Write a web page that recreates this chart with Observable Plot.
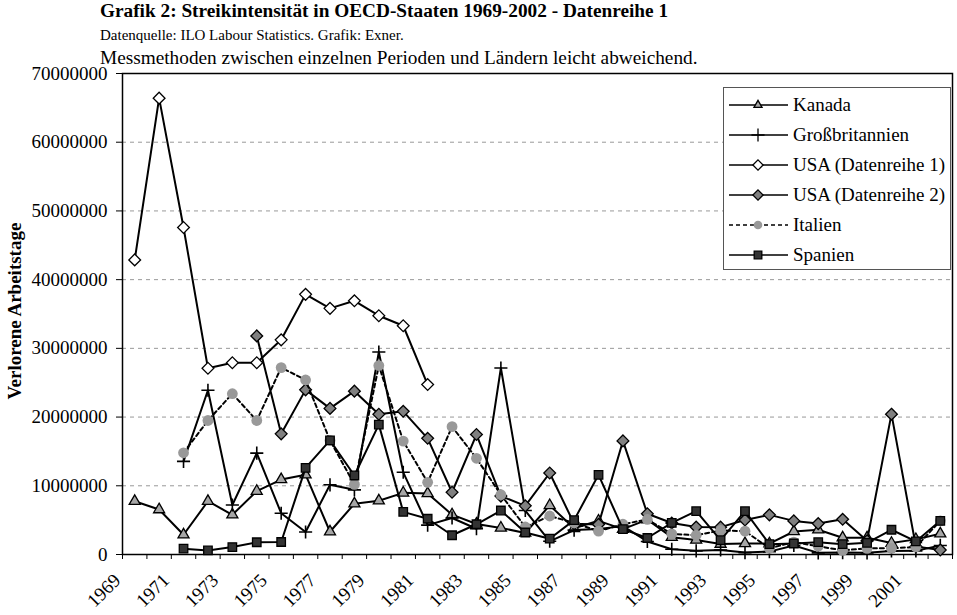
<!DOCTYPE html>
<html><head><meta charset="utf-8">
<script src="https://cdn.jsdelivr.net/npm/d3@7"></script>
<script src="https://cdn.jsdelivr.net/npm/@observablehq/plot@0.6"></script>
<style>
body{margin:0;background:#fff;font-family:"Liberation Serif","Times New Roman",serif;color:#000;}
#wrap{position:relative;width:957px;height:615px;overflow:hidden;}
#head{position:relative;height:62px;}
.t{position:absolute;left:100px;white-space:nowrap;line-height:1;}
#ylab{position:absolute;left:14px;top:311px;transform:translate(-50%,-50%) rotate(-90deg);font-weight:bold;font-size:19px;white-space:nowrap;line-height:1;}
#legend{position:absolute;left:723px;top:87px;width:226px;height:181px;border:1px solid #555;background:#fff;}
.row{position:absolute;left:0;height:30px;width:226px;}
.row svg{position:absolute;left:0;top:0;}
.row span{position:absolute;left:69px;top:5px;font-size:19px;line-height:1;white-space:nowrap;}
</style></head><body>
<div id="wrap">
  <div id="head">
    <div class="t" style="top:1px;font-weight:bold;font-size:19.3px">Grafik 2: Streikintensität in OECD-Staaten 1969-2002 - Datenreihe 1</div>
    <div class="t" style="top:28px;font-size:15px">Datenquelle: ILO Labour Statistics. Grafik: Exner.</div>
    <div class="t" style="top:48px;font-size:19.3px">Messmethoden zwischen einzelnen Perioden und Ländern leicht abweichend.</div>
  </div>
  <div id="chart"></div>
  <div id="ylab">Verlorene Arbeitstage</div>
  <div id="legend"></div>
</div>
<script>
const years = [1969,1970,1971,1972,1973,1974,1975,1976,1977,1978,1979,1980,1981,1982,1983,1984,1985,1986,1987,1988,1989,1990,1991,1992,1993,1994,1995,1996,1997,1998,1999,2000,2001,2002];
const labelYears = [1969,1971,1973,1975,1977,1979,1981,1983,1985,1987,1989,1991,1993,1995,1997,1999,2001];
const yTicks = [0,10000000,20000000,30000000,40000000,50000000,60000000,70000000];

const kanada = [7750000,6540000,2870000,7750000,5780000,9220000,10910000,11610000,3310000,7390000,7830000,8970000,8880000,5800000,4440000,3870000,3130000,7150000,3810000,4900000,3700000,5080000,2520000,2110000,1520000,1610000,1580000,3350000,3610000,2440000,2440000,1660000,2200000,3030000];
const grossbritannien = [null,null,13550000,23910000,7200000,14750000,6010000,3280000,10140000,9410000,29470000,11960000,4270000,5310000,3750000,27140000,6400000,1920000,3550000,3700000,4130000,1900000,760000,530000,650000,280000,420000,1300000,240000,280000,240000,500000,530000,1320000];
const usa1 = [42870000,66410000,47590000,27100000,27900000,27900000,31240000,37860000,35820000,36920000,34750000,33290000,24730000,null,null,null,null,null,null,null,null,null,null,null,null,null,null,null,null,null,null,null,null,null];
const usa2 = [null,null,null,null,null,31810000,17560000,23960000,21260000,23770000,20410000,20840000,16910000,9060000,17460000,8500000,7080000,11860000,4480000,4380000,16530000,5930000,4580000,3990000,3980000,5020000,5770000,4890000,4500000,5120000,1990000,20420000,1150000,660000];
const italien = [null,null,14800000,19500000,23400000,19500000,27200000,25400000,16600000,10200000,27500000,16500000,10500000,18600000,14000000,8700000,4000000,5600000,4600000,3400000,4400000,5100000,3000000,2800000,3500000,3400000,900000,1800000,1200000,600000,900000,900000,1100000,4900000];
const spanien = [null,null,850000,590000,1080000,1780000,1820000,12600000,16600000,11500000,18900000,6200000,5200000,2800000,4400000,6400000,3200000,2300000,5000000,11600000,3700000,2400000,4600000,6300000,2100000,6300000,1500000,1600000,1800000,1500000,1700000,3600000,1900000,4900000];

const seriesNames = ["Kanada","Großbritannien","USA (Datenreihe 1)","USA (Datenreihe 2)","Italien","Spanien"];
const seriesValues = [kanada, grossbritannien, usa1, usa2, italien, spanien];
const styles = [
  {symbol:"triangle", r:4.1, fill:"#a6a6a6", stroke:"#000", dash:null, lr:3.0},
  {symbol:"plus", r:4.3, fill:"none", stroke:"#000", dash:null, lr:4.3},
  {symbol:"diamond2", r:5.3, fill:"#fff", stroke:"#000", dash:null, lr:4.6},
  {symbol:"diamond2", r:5.3, fill:"#808080", stroke:"#000", dash:null, lr:4.6},
  {symbol:"circle", r:5.4, fill:"#999", stroke:"none", dash:"4,3", lr:4.3},
  {symbol:"square", r:4.8, fill:"#333", stroke:"#000", dash:null, lr:4.3}
];

const tables = seriesValues.map(vals => years.map((yr,i)=>({year:yr, value:vals[i]})).filter(d=>d.value!==null));
const boundaries = years.map(y=>y-0.5).concat([years[years.length-1]+0.5]);

const marks = [
  Plot.ruleY(yTicks.filter(v=>v>0), {stroke:"#999", strokeWidth:1, strokeDasharray:"4,4"}),
  Plot.frame({stroke:"#000", strokeWidth:1.5})
];
tables.forEach((tbl,i)=>{
  const s = styles[i];
  marks.push(Plot.line(tbl, {x:"year", y:"value", stroke:"#000", strokeWidth:2, strokeDasharray: s.dash || undefined}));
  marks.push(Plot.dot(tbl, {x:"year", y:"value", symbol: ()=>s.symbol, r:s.r, fill:s.fill, stroke:s.stroke, strokeWidth: s.symbol==="plus"?1.6:1.3}));
});
marks.push(Plot.text(labelYears, {x:d=>d, frameAnchor:"bottom", text:d=>String(d), rotate:-45, textAnchor:"end", dx:-13, dy:27, fontSize:19}));

const chart = Plot.plot({
  width:957, height:553,
  marginTop:11, marginBottom:61, marginLeft:122, marginRight:5,
  style:{fontFamily:"'Liberation Serif','Times New Roman',serif", fontSize:"19px", color:"#000", background:"#fff"},
  x:{type:"linear", domain:[1968.5,2002.5], ticks:boundaries, tickFormat:()=>"", tickSize:5, label:null},
  y:{type:"linear", domain:[0,70000000], ticks:yTicks, tickFormat:d=>String(d), tickSize:6, tickPadding:9, label:null},
  symbol:{type:"identity"},
  marks
});
document.getElementById("chart").appendChild(chart);

// legend
const symMap = {triangle:d3.symbolTriangle, plus:d3.symbolPlus, diamond2:d3.symbolDiamond2, circle:d3.symbolCircle, square:d3.symbolSquare};
const leg = d3.select("#legend");
seriesNames.forEach((name,i)=>{
  const s = styles[i];
  const row = leg.append("div").attr("class","row").style("top", (2 + i*30) + "px");
  const svg = row.append("svg").attr("width",66).attr("height",30);
  svg.append("line").attr("x1",5).attr("x2",64).attr("y1",15).attr("y2",15).attr("stroke","#000").attr("stroke-width",1.5).attr("stroke-dasharray", s.dash || null);
  svg.append("path").attr("transform","translate(34,15)")
    .attr("d", d3.symbol(symMap[s.symbol], Math.PI*s.lr*s.lr)())
    .attr("fill", s.fill).attr("stroke", s.stroke).attr("stroke-width", 1.3);
  row.append("span").text(name);
});
</script>
</body></html>
